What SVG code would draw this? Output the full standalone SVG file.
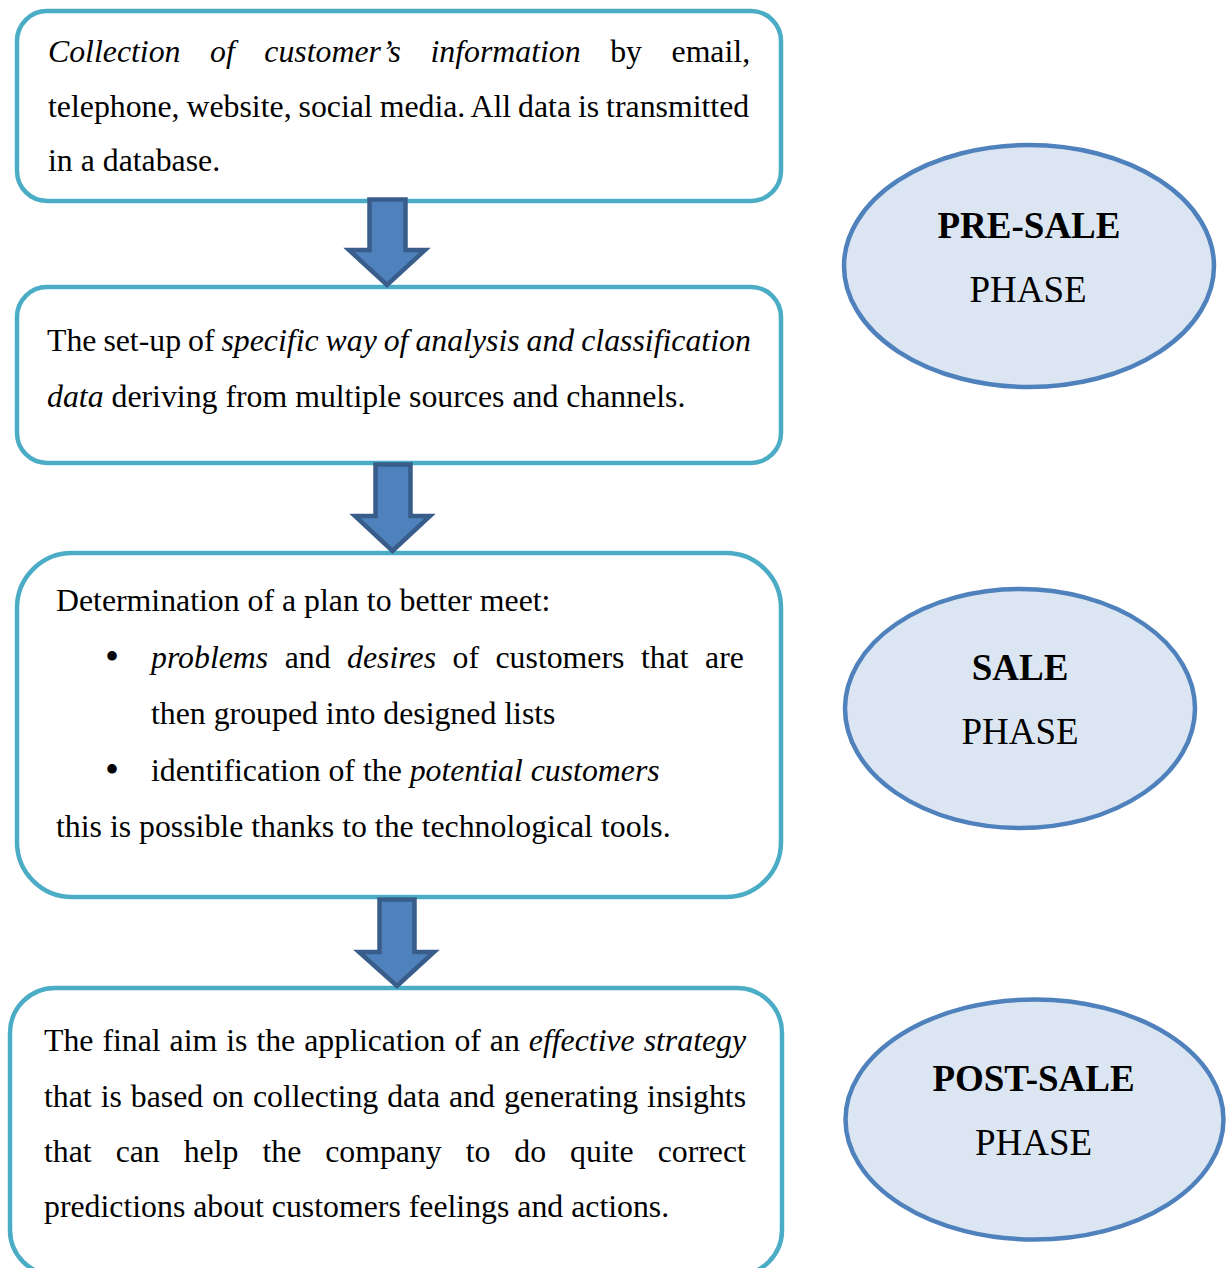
<svg xmlns="http://www.w3.org/2000/svg" width="1231" height="1268" viewBox="0 0 1231 1268">
  <style>
    .box { fill: #ffffff; stroke: #4bacc6; stroke-width: 4.5; }
    .phase { fill: #dce6f2; stroke: #4f81bd; stroke-width: 4.5; }
    .flow { fill: #4f81bd; stroke: #385d8a; stroke-width: 4.5; stroke-linejoin: miter; }
    .t { font-family: "Liberation Serif", "Times New Roman", serif; font-size: 31.8px; fill: #000000; }
    .i { font-style: italic; }
    .ph { font-family: "Liberation Serif", "Times New Roman", serif; font-size: 37px; fill: #000000; text-anchor: middle; }
    .b { font-weight: bold; }
    .bul { font-family: "Liberation Serif", "Times New Roman", serif; font-size: 40px; text-anchor: middle; fill: #000000; }
  </style>
  <rect width="1231" height="1268" fill="#ffffff"/>

  <!-- step 1: data collection -->
  <g id="step-collection">
    <rect class="box" x="17" y="11" width="764" height="190" rx="30" ry="30"/>
    <text class="t" x="48" y="61.5" word-spacing="21.6"><tspan class="i">Collection of customer’s information</tspan> by email,</text>
    <text class="t" x="48" y="116.5" word-spacing="-1">telephone, website, social media. All data is transmitted</text>
    <text class="t" x="48" y="171">in a database.</text>
  </g>

  <!-- step 2: analysis set-up -->
  <g id="step-analysis">
    <rect class="box" x="17" y="287" width="764" height="176" rx="30" ry="30"/>
    <text class="t" x="47" y="350.5" word-spacing="-1">The set-up of <tspan class="i">specific way of analysis and classification</tspan></text>
    <text class="t" x="47" y="406.5"><tspan class="i">data</tspan> deriving from multiple sources and channels.</text>
  </g>

  <!-- step 3: plan -->
  <g id="step-plan">
    <rect class="box" x="17" y="553" width="764" height="344" rx="55" ry="55"/>
    <text class="t" x="56" y="611">Determination of a plan to better meet:</text>
    <text class="bul" x="112" y="670">•</text>
    <text class="t" x="151" y="668" word-spacing="8.55"><tspan class="i">problems</tspan> and <tspan class="i">desires</tspan> of customers that are</text>
    <text class="t" x="151" y="724">then grouped into designed lists</text>
    <text class="bul" x="112" y="783">•</text>
    <text class="t" x="151" y="781">identification of the <tspan class="i">potential customers</tspan></text>
    <text class="t" x="56" y="837">this is possible thanks to the technological tools.</text>
  </g>

  <!-- step 4: strategy -->
  <g id="step-strategy">
    <rect class="box" x="10" y="988" width="772" height="287" rx="45" ry="45"/>
    <text class="t" x="44" y="1051" word-spacing="1">The final aim is the application of an <tspan class="i">effective strategy</tspan></text>
    <text class="t" x="44" y="1107" word-spacing="1">that is based on collecting data and generating insights</text>
    <text class="t" x="44" y="1162" word-spacing="16">that can help the company to do quite correct</text>
    <text class="t" x="44" y="1217">predictions about customers feelings and actions.</text>
  </g>

  <!-- phase labels -->
  <g id="phase-pre-sale">
    <ellipse class="phase" cx="1029" cy="266" rx="185" ry="121"/>
    <text class="ph b" x="1029" y="238">PRE-SALE</text>
    <text class="ph" x="1028" y="302">PHASE</text>
  </g>
  <g id="phase-sale">
    <ellipse class="phase" cx="1020" cy="708.5" rx="175" ry="119.5"/>
    <text class="ph b" x="1020" y="680">SALE</text>
    <text class="ph" x="1020" y="744">PHASE</text>
  </g>
  <g id="phase-post-sale">
    <ellipse class="phase" cx="1034.5" cy="1119.5" rx="189" ry="120"/>
    <text class="ph b" x="1033.5" y="1091">POST-SALE</text>
    <text class="ph" x="1033.5" y="1155">PHASE</text>
  </g>

  <!-- block arrows between steps -->
  <g id="connectors">
    <path class="flow" d="M369.5 199.5 H405.5 V250 H425 L387 285 L349 250 H369.5 Z"/>
    <path class="flow" d="M375.5 464.5 H410.5 V516 H430 L392.5 551 L355 516 H375.5 Z"/>
    <path class="flow" d="M379.5 899.5 H414.5 V952 H434 L397 986 L359 952 H379.5 Z"/>
  </g>
</svg>
